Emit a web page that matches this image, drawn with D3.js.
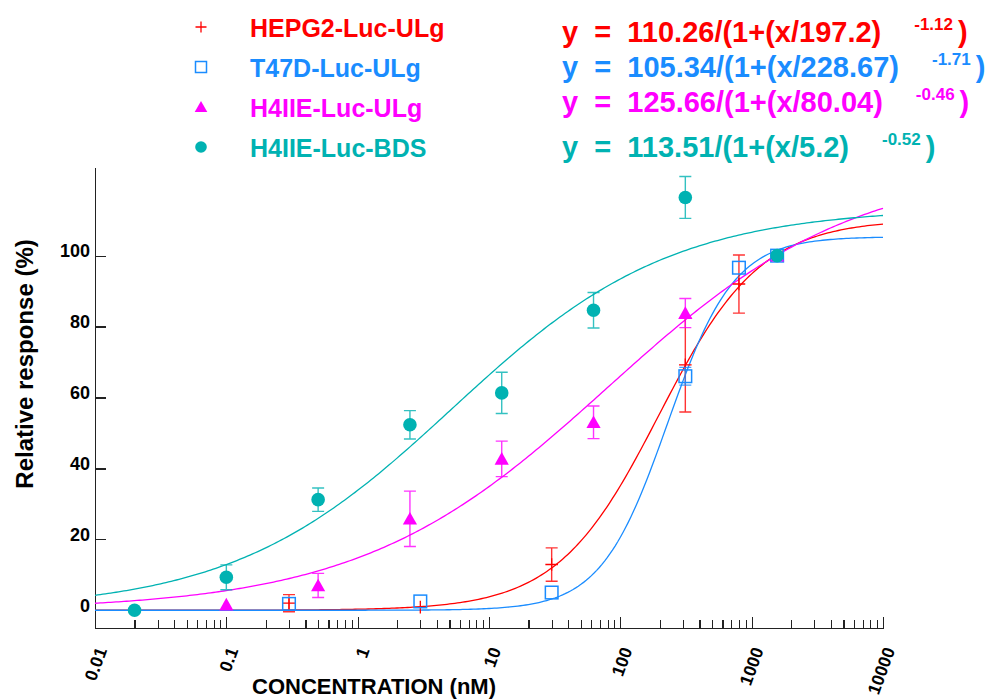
<!DOCTYPE html>
<html>
<head>
<meta charset="utf-8">
<script src="https://d3js.org/d3.v7.min.js"></script>
<style>
  body { margin: 0; background: #fff; }
  svg { font-family: "Liberation Sans", Arial, sans-serif; }
  .axis path, .axis line { fill: none; stroke: #222; stroke-width: 1.2; shape-rendering: crispEdges; }
  .axis text { font-weight: bold; fill: #000; }
</style>
</head>
<body>
<svg id="chart" width="987" height="700"></svg>
<script>
// ---- data ----
var seriesNames = ["HEPG2-Luc-ULg", "T47D-Luc-ULg", "H4IIE-Luc-ULg", "H4IIE-Luc-BDS"];
var seriesColors = ["#ff0000", "#1a8cff", "#ff00ff", "#00b2b2"];

var hepg2Conc = [0.3, 3, 30, 312.5, 800, 1562.5];
var hepg2Resp = [2.0, 0.9, 12.9, 69.2, 92.0, 100];
var hepg2Sem  = [2.4, 0, 4.7, 13.3, 8.2, 0];

var t47dConc = [0.3, 3, 30, 312.5, 800, 1562.5];
var t47dResp = [1.8, 2.5, 5.0, 66.0, 96.6, 100];
var t47dSem  = [0, 0, 0, 2.5, 0, 0];

var h4ulgConc = [0.1, 0.5, 2.5, 12.5, 62.5, 312.5, 1562.5];
var h4ulgResp = [1.6, 7.0, 25.8, 42.7, 53.0, 83.8, 100];
var h4ulgSem  = [0, 3.4, 7.8, 5.0, 4.6, 4.1, 0];

var h4bdsConc = [0.02, 0.1, 0.5, 2.5, 12.5, 62.5, 312.5, 1562.5];
var h4bdsResp = [0, 9.3, 31.2, 52.3, 61.3, 84.6, 116.4, 100];
var h4bdsSem  = [0, 3.5, 3.3, 4.0, 5.8, 5.0, 5.9, 0];

// fitted curve parameters (y = top/(1+(x/ec50)^hill))
var fitTop  = [110.26, 105.34, 125.66, 113.51];
var fitEC50 = [197.2, 228.67, 80.04, 5.2];
var fitHill = [-1.12, -1.71, -0.46, -0.52];

var xTickLabels = ["0.01", "0.1", "1", "10", "100", "1000", "10000"];
var yTickValues = [0, 20, 40, 60, 80, 100];

// ---- layout ----
var svg = d3.select("#chart");
var x = d3.scaleLog().domain([0.01, 10000]).range([95, 883]);
var y = d3.scaleLinear().domain([-5, 125]).range([628, 167]);

var series = [
  {conc: hepg2Conc, resp: hepg2Resp, sem: hepg2Sem, shape: "plus"},
  {conc: t47dConc, resp: t47dResp, sem: t47dSem, shape: "square"},
  {conc: h4ulgConc, resp: h4ulgResp, sem: h4ulgSem, shape: "triangle"},
  {conc: h4bdsConc, resp: h4bdsResp, sem: h4bdsSem, shape: "circle"}
];
series.forEach(function (s, i) {
  s.name = seriesNames[i];
  s.color = seriesColors[i];
  s.top = fitTop[i]; s.ec50 = fitEC50[i]; s.hill = fitHill[i];
});

// x axis with decade + minor ticks
var xTicks = [];
for (var e = -2; e <= 4; e++) {
  for (var k = 1; k <= 9; k++) {
    var v = k * Math.pow(10, e);
    if (v <= 10000) xTicks.push(v);
  }
}
function isDecade(v) { return Math.abs(Math.log10(v) - Math.round(Math.log10(v))) < 1e-9; }

var gx = svg.append("g").attr("class", "axis")
  .attr("transform", "translate(0,628)")
  .call(d3.axisBottom(x).tickValues(xTicks).tickSizeOuter(0)
    .tickFormat(function (d) { return isDecade(d) ? xTickLabels[Math.round(Math.log10(d)) + 2] : ""; }));
gx.selectAll(".tick line").attr("y2", function (d) { return isDecade(d) ? -11 : -8; });
gx.selectAll(".tick text")
  .attr("font-size", 17.5)
  .attr("text-anchor", "end")
  .attr("y", 0).attr("dy", "0.35em")
  .attr("transform", "translate(6,20) rotate(-70)");

// y axis
var gy = svg.append("g").attr("class", "axis")
  .attr("transform", "translate(95,0)")
  .call(d3.axisLeft(y).tickValues(yTickValues).tickSizeOuter(0).tickSizeInner(-11).tickPadding(5));
gy.selectAll(".tick text").attr("font-size", 18).attr("dy", "0.05em");
gy.selectAll(".tick line").filter(function (d) { return d === 0; }).remove();

// axis titles
svg.append("text")
  .attr("transform", "translate(33,364) rotate(-90)")
  .attr("text-anchor", "middle")
  .attr("font-size", 24).attr("font-weight", "bold")
  .text("Relative response (%)");
svg.append("text")
  .attr("x", 374).attr("y", 694)
  .attr("text-anchor", "middle")
  .attr("font-size", 22).attr("font-weight", "bold")
  .text("CONCENTRATION (nM)");

// fitted curves
var grid = d3.range(0, 301).map(function (i) { return Math.pow(10, -2 + 6 * i / 300); });
var line = d3.line().x(function (d) { return x(d[0]); }).y(function (d) { return y(d[1]); });
series.forEach(function (s) {
  var pts = grid.map(function (c) { return [c, s.top / (1 + Math.pow(c / s.ec50, s.hill))]; });
  svg.append("path").attr("d", line(pts))
    .attr("fill", "none").attr("stroke", s.color).attr("stroke-width", 1.3);
});

// marker drawing
function drawMarker(g, shape, color, size) {
  var r = size;
  if (shape === "plus") {
    g.append("path").attr("d", "M" + (-r) + ",0H" + r + "M0," + (-r) + "V" + r)
      .attr("stroke", color).attr("stroke-width", 1.3).attr("fill", "none");
  } else if (shape === "square") {
    g.append("rect").attr("x", -r).attr("y", -r).attr("width", 2 * r).attr("height", 2 * r)
      .attr("stroke", color).attr("stroke-width", 1.5).attr("fill", "none");
  } else if (shape === "triangle") {
    g.append("path").attr("d", "M0," + (-r - 0.5) + "L" + (r + 0.8) + "," + (r - 0.5) + "L" + (-r - 0.8) + "," + (r - 0.5) + "Z")
      .attr("fill", color);
  } else {
    g.append("circle").attr("r", r).attr("fill", color);
  }
}

// error bars and points
series.forEach(function (s) {
  var g = svg.append("g");
  s.conc.forEach(function (c, i) {
    var cx = x(c), cy = y(s.resp[i]), err = s.sem[i];
    if (err > 0) {
      var y1 = y(s.resp[i] + err), y2 = y(s.resp[i] - err);
      g.append("path")
        .attr("d", "M" + cx + "," + y1 + "V" + y2 + "M" + (cx - 6) + "," + y1 + "H" + (cx + 6) + "M" + (cx - 6) + "," + y2 + "H" + (cx + 6))
        .attr("stroke", s.color).attr("stroke-width", 1.4).attr("fill", "none").attr("opacity", 0.8);
    }
    var m = g.append("g").attr("transform", "translate(" + cx + "," + cy + ")");
    drawMarker(m, s.shape, s.color, s.shape === "circle" ? 6.8 : 6.3);
  });
});

// legend + equations
var legY = [37, 77, 117, 157];
var eqY = [42, 77, 112, 157];
series.forEach(function (s, i) {
  var m = svg.append("g").attr("transform", "translate(201," + (legY[i] - 10) + ")");
  drawMarker(m, s.shape, s.color, s.shape === "circle" ? 5.8 : 5.5);
  svg.append("text")
    .attr("x", 250).attr("y", legY[i])
    .attr("font-size", 25).attr("font-weight", "bold").attr("fill", s.color)
    .text(s.name);
  var t = svg.append("text")
    .attr("x", 562).attr("y", eqY[i])
    .attr("font-size", 29).attr("font-weight", "bold").attr("fill", s.color)
    .style("white-space", "pre");
  t.append("tspan").text("y  =  " + s.top + "/(1+(x/" + s.ec50 + ")");
  t.append("tspan").attr("dx", 33).attr("dy", -12).attr("font-size", 17).text(s.hill.toFixed(2));
  t.append("tspan").attr("dx", 5).attr("dy", 12).text(")");
});
</script>
</body>
</html>
